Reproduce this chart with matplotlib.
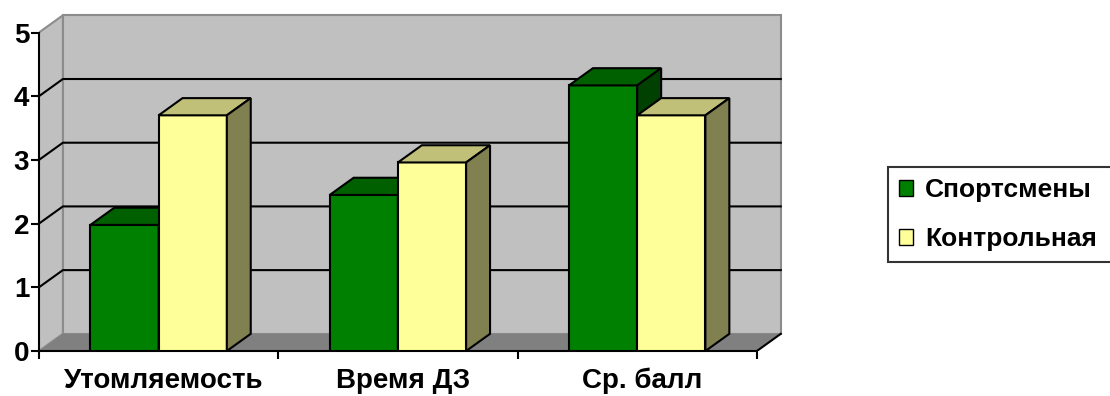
import matplotlib
matplotlib.use('Agg')
import matplotlib.pyplot as plt
from matplotlib.patches import Polygon, Patch

categories = ['Утомляемость', 'Время ДЗ', 'Ср. балл']
series_names = ['Спортсмены', 'Контрольная']
sportsmen = [1.98, 2.45, 4.17]
control = [3.7, 2.96, 3.7]
y_ticks = [0, 1, 2, 3, 4, 5]

# front / top / side face colours
green = ('#008000', '#006000', '#004000')
yellow = ('#ffff99', '#c0c078', '#808050')

depth_x = 0.1   # depth shift along the category axis
depth_y = 0.27  # depth shift along the value axis
width = 0.285
ymax = y_ticks[-1]
ncat = len(categories)

plt.rcParams['font.family'] = ['Liberation Sans', 'DejaVu Sans']

fig = plt.figure(figsize=(11.1, 3.96), dpi=100)
ax = fig.add_axes([0.0351, 0.1136, 0.6791, 0.8606])
ax.set_xlim(0, 3.15)
ax.set_ylim(0, 5.35)
ax.patch.set_visible(False)

# walls and floor
ax.add_patch(Polygon([(depth_x, depth_y), (ncat + depth_x, depth_y),
                      (ncat + depth_x, ymax + depth_y), (depth_x, ymax + depth_y)],
                     fc='#c0c0c0', ec='#8c8c8c', lw=1.5, zorder=0))
ax.add_patch(Polygon([(0, 0), (depth_x, depth_y), (depth_x, ymax + depth_y), (0, ymax)],
                     fc='#c0c0c0', ec='#8c8c8c', lw=1.5, zorder=0))
ax.add_patch(Polygon([(0, 0), (ncat, 0), (ncat + depth_x, depth_y), (depth_x, depth_y)],
                     fc='#808080', ec='none', zorder=0.5))
ax.plot([ncat, ncat + depth_x], [0, depth_y], color='k', lw=1.5, zorder=1)

# gridlines on side and back wall
for k in y_ticks[1:-1]:
    ax.plot([0, depth_x, ncat + depth_x], [k, k + depth_y, k + depth_y],
            color='k', lw=1.5, zorder=1)


def bar3d(xs, heights, colors, z):
    front, top, side = colors
    ax.bar(xs, heights, width, align='edge', color=front, edgecolor='k', lw=1.5, zorder=z)
    for x0, h in zip(xs, heights):
        x1 = x0 + width
        ax.add_patch(Polygon([(x0, h), (x1, h), (x1 + depth_x, h + depth_y), (x0 + depth_x, h + depth_y)],
                             fc=top, ec='k', lw=1.5, zorder=z))
        ax.add_patch(Polygon([(x1, 0), (x1 + depth_x, depth_y), (x1 + depth_x, h + depth_y), (x1, h)],
                             fc=side, ec='k', lw=1.5, zorder=z))


centers = [i + 0.5 for i in range(ncat)]
bar3d([c - width for c in centers], sportsmen, green, 3)
bar3d(centers, control, yellow, 4)

for s in ['top', 'right']:
    ax.spines[s].set_visible(False)
ax.spines['left'].set_bounds(0, ymax)
ax.spines['bottom'].set_bounds(0, ncat)
ax.spines['left'].set_linewidth(1.5)
ax.spines['bottom'].set_linewidth(1.5)
ax.spines['left'].set_zorder(2)
ax.spines['bottom'].set_zorder(2)

ax.set_yticks(y_ticks)
ax.set_yticklabels([str(t) for t in y_ticks], fontsize=20, fontweight='bold')
ax.tick_params(axis='y', length=6, width=1.5, pad=1)

ax.set_xticks(range(ncat + 1))
ax.set_xticklabels([])
ax.tick_params(axis='x', which='major', length=6, width=1.5)
ax.set_xticks([c + 0.02 for c in centers], minor=True)
ax.set_xticklabels(categories, minor=True, fontsize=20, fontweight='bold')
ax.tick_params(axis='x', which='minor', length=0, pad=12)

# legend box runs past the right edge of the figure
handles = [Patch(fc=green[0], ec='k', lw=1), Patch(fc=yellow[0], ec='k', lw=1)]
leg = fig.legend(handles, series_names, loc='upper left', mode='expand',
                 bbox_to_anchor=(0.8, 0.33, 0.25, 0.248),
                 frameon=True, fancybox=False, edgecolor='k',
                 prop={'weight': 'bold', 'size': 19},
                 handlelength=0.53, handleheight=0.53, handletextpad=0.45,
                 labelspacing=0.95, borderpad=0.42, borderaxespad=0)
leg.get_frame().set_linewidth(1.5)

fig.savefig('out.png', dpi=100)
